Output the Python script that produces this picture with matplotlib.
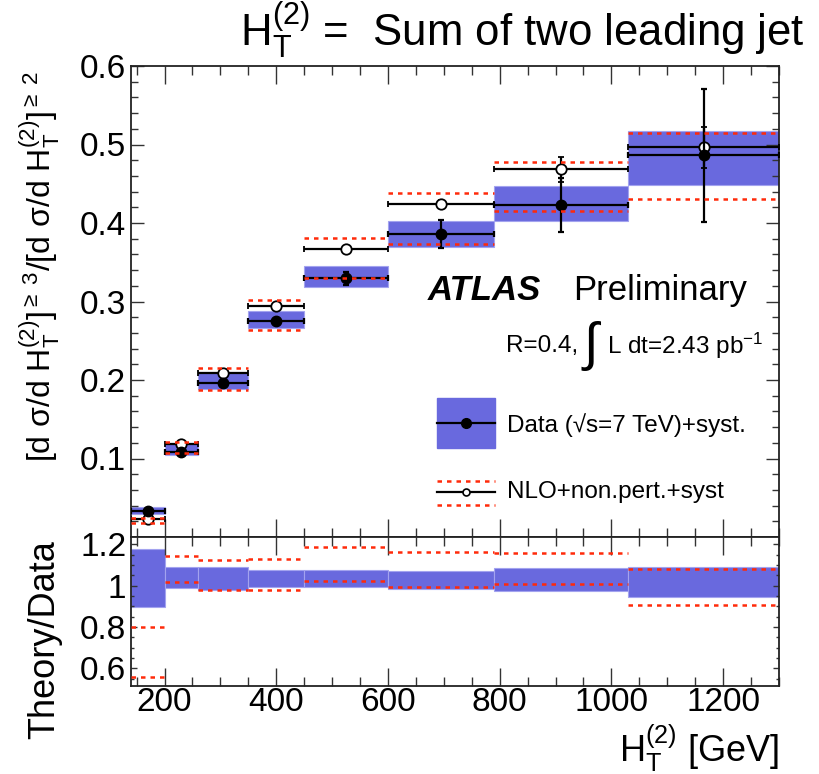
import matplotlib
matplotlib.use("Agg")
import matplotlib.pyplot as plt
import numpy as np
from matplotlib.ticker import MultipleLocator, FixedLocator

plt.rcParams['font.family'] = ['Liberation Sans', 'DejaVu Sans']
plt.rcParams['mathtext.fontset'] = 'custom'
plt.rcParams['mathtext.rm'] = 'Liberation Sans'
plt.rcParams['mathtext.it'] = 'Liberation Sans:italic'
plt.rcParams['mathtext.bf'] = 'Liberation Sans:bold'

# HT(2) bins [GeV]
bin_edges = [140, 200, 260, 350, 450, 600, 790, 1030, 1300]

# ratio >=3 jets / >=2 jets, data with stat errors and syst band
data_ratio = [0.0335, 0.108, 0.1966, 0.2752, 0.3295, 0.386, 0.4229, 0.4862]
data_stat = [0.002, 0.002, 0.003, 0.003, 0.008, 0.018, 0.034, 0.085]
data_syst_up = [0.0386, 0.1194, 0.2106, 0.2879, 0.3456, 0.4022, 0.4471, 0.5172]
data_syst_down = [0.0293, 0.1045, 0.1882, 0.2667, 0.318, 0.369, 0.403, 0.448]

# NLO + non-perturbative corrections
nlo_ratio = [0.023, 0.119, 0.2093, 0.2943, 0.3673, 0.4242, 0.4684, 0.4965]
nlo_stat = [0.001, 0.002, 0.002, 0.002, 0.002, 0.005, 0.016, 0.026]
nlo_up = [0.0246, 0.1214, 0.2149, 0.302, 0.3813, 0.4378, 0.4781, 0.5143]
nlo_down = [0.0175, 0.1066, 0.1873, 0.2637, 0.3295, 0.3732, 0.4157, 0.4302]

# theory/data panel
rd_up = [1.176, 1.088, 1.091, 1.075, 1.075, 1.072, 1.085, 1.091]
rd_down = [0.896, 0.989, 0.979, 0.992, 0.995, 0.982, 0.976, 0.944]
rn_up = [0.80, 1.144, 1.125, 1.128, 1.188, 1.163, 1.158, 1.082]
rn_down = [0.557, 1.016, 0.981, 0.981, 1.024, 0.992, 1.008, 0.907]

blue = '#6969de'
blue_edge = '#a3a3ef'
red = '#ff2a0a'
dash = (0, (1.8, 2.0))

edges = np.array(bin_edges, dtype=float)
lo = edges[:-1]
hi = edges[1:]
xc = 0.5 * (lo + hi)
xw = hi - lo

fig = plt.figure(figsize=(8.19, 7.74), dpi=100)
L, R = 131 / 819, 779 / 819
ax = fig.add_axes([L, 1 - 537 / 774, R - L, (537 - 66) / 774])
axr = fig.add_axes([L, 1 - 686 / 774, R - L, (686 - 537) / 774], sharex=ax)

for a in (ax, axr):
    for s in a.spines.values():
        s.set_linewidth(1.3)
        s.set_color('#222222')
    a.tick_params(which='both', direction='in', top=True, right=True, width=1.0, color='#333333')
    a.xaxis.set_major_locator(MultipleLocator(200))
    a.xaxis.set_minor_locator(MultipleLocator(50))

# upper panel
ax.bar(lo, np.array(data_syst_up) - np.array(data_syst_down), width=xw, bottom=data_syst_down,
       align='edge', color=blue, edgecolor=blue_edge, linewidth=0.8, zorder=1)
ax.errorbar(xc, nlo_ratio, xerr=xw / 2, yerr=nlo_stat, fmt='o', color='black', mfc='white', mec='black',
            ms=7.5, mew=1.3, elinewidth=1.6, capsize=2.5, capthick=1.6, zorder=3)
ax.errorbar(xc, data_ratio, xerr=xw / 2, yerr=data_stat, fmt='o', color='black',
            ms=7.5, elinewidth=1.6, capsize=2.5, capthick=1.6, zorder=4)
ax.hlines(nlo_up, lo, hi, colors=red, linestyles=dash, linewidth=1.8, zorder=5)
ax.hlines(nlo_down, lo, hi, colors=red, linestyles=dash, linewidth=1.8, zorder=5)

ax.set_xlim(140, 1300)
ax.set_ylim(0, 0.6)
ax.yaxis.set_major_locator(FixedLocator([0.1, 0.2, 0.3, 0.4, 0.5, 0.6]))
ax.yaxis.set_minor_locator(MultipleLocator(0.02))
ax.tick_params(axis='x', which='major', length=13, labelbottom=False)
ax.tick_params(axis='x', which='minor', length=6.5)
ax.tick_params(axis='y', which='major', length=9.5, labelsize=24)
ax.tick_params(axis='y', which='minor', length=5)

# labels inside the plot
ax.text(0.458, 0.524, 'ATLAS', transform=ax.transAxes, fontsize=25, fontweight='bold', style='italic',
        ha='left', va='center')
ax.text(0.682, 0.524, 'Preliminary', transform=ax.transAxes, fontsize=25, ha='left', va='center')
ax.text(0.579, 0.405, 'R=0.4,', transform=ax.transAxes, fontsize=17.5, ha='left', va='center')
ax.text(0.698, 0.405, '\u222b', transform=ax.transAxes, fontsize=38, ha='left', va='center')
ax.text(0.734, 0.405, 'L dt=2.43 pb$^{\\mathregular{-1}}$', transform=ax.transAxes, fontsize=17.5,
        ha='left', va='center')

# legend keys
ax.add_patch(plt.Rectangle((0.472, 0.189), 0.09, 0.106, transform=ax.transAxes, color=blue, zorder=6))
ax.plot([0.472, 0.562], [0.242, 0.242], transform=ax.transAxes, color='black', lw=1.6, zorder=7)
ax.plot([0.517], [0.242], 'o', transform=ax.transAxes, color='black', ms=7, zorder=7)
ax.text(0.58, 0.238, 'Data (\u221as=7 TeV)+syst.', transform=ax.transAxes, fontsize=17.5, ha='left', va='center')
for yk in (0.119, 0.068):
    ax.plot([0.472, 0.562], [yk, yk], transform=ax.transAxes, color=red, lw=1.8, ls=dash, zorder=7)
ax.plot([0.472, 0.562], [0.0955, 0.0955], transform=ax.transAxes, color='black', lw=1.6, zorder=7)
ax.plot([0.517], [0.0955], 'o', transform=ax.transAxes, mfc='white', mec='black', mew=1.2, ms=5, zorder=8)
ax.text(0.58, 0.0955, 'NLO+non.pert.+syst', transform=ax.transAxes, fontsize=17.5, ha='left', va='center')

# ratio panel
axr.bar(lo, np.array(rd_up) - np.array(rd_down), width=xw, bottom=rd_down,
        align='edge', color=blue, edgecolor=blue_edge, linewidth=0.8, zorder=1)
axr.hlines(rn_up, lo, hi, colors=red, linestyles=dash, linewidth=1.8, zorder=5)
axr.hlines(rn_down, lo, hi, colors=red, linestyles=dash, linewidth=1.8, zorder=5)
axr.set_ylim(0.515, 1.235)
axr.yaxis.set_major_locator(FixedLocator([0.6, 0.8, 1.0, 1.2]))
axr.yaxis.set_minor_locator(MultipleLocator(0.05))
axr.set_yticklabels(['0.6', '0.8', '1', '1.2'])
axr.tick_params(axis='x', which='major', length=13, labelsize=24, pad=1)
axr.tick_params(axis='x', which='minor', length=6.5)
axr.tick_params(axis='y', which='major', length=4, labelsize=24)
axr.tick_params(axis='y', which='minor', length=2.5)

ht = r'H$_\mathregular{T}^\mathregular{(2)}$'
fig.text(0.983, 1 - 30 / 774, ht + ' =  Sum of two leading jet', ha='right', va='center', fontsize=31.5)
fig.text(779 / 819, 1 - 748 / 774, ht + ' [GeV]', ha='right', va='center', fontsize=26)
ylab = ('[d σ/d ' + ht + r']$^{\mathregular{\geq\ 3}}$/[d σ/d ' + ht + r']$^{\mathregular{\geq\ 2}}$')
fig.text(40 / 819, 1 - 267 / 774, ylab, rotation=90, ha='center', va='center', fontsize=23)
fig.text(45 / 819, 1 - 640 / 774, 'Theory/Data', rotation=90, ha='center', va='center', fontsize=26)

fig.savefig('out.png', dpi=100)
